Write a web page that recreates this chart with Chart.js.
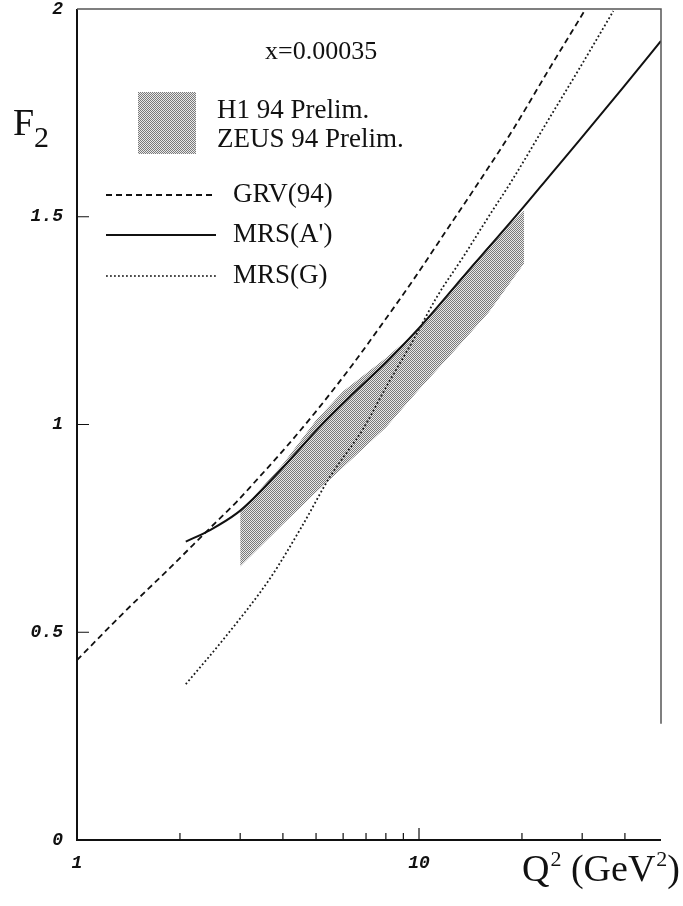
<!DOCTYPE html>
<html>
<head>
<meta charset="utf-8">
<script src="https://cdn.jsdelivr.net/npm/chart.js@4.4.1/dist/chart.umd.min.js"></script>
<style>
  html, body { margin: 0; padding: 0; background: #fff; }
  #wrap { position: relative; width: 683px; height: 906px; }
</style>
</head>
<body>
<div id="wrap"><canvas id="chart" width="683" height="906"></canvas></div>
<script>
// values
const grvQ2 = [1, 1.35, 1.87, 2.45, 2.93, 3.28, 4.1, 5.13, 6.43, 7.6, 9.62, 12.05, 15.0, 18.9, 23.6, 30.6];
const grvF2 = [0.433, 0.542, 0.655, 0.751, 0.814, 0.858, 0.947, 1.043, 1.147, 1.229, 1.348, 1.468, 1.585, 1.712, 1.845, 1.998];

const mrsaQ2 = [2.08, 2.45, 2.93, 3.28, 4.1, 5.13, 6.43, 8.05, 10.07, 13.48, 20.2, 24.4, 29.6, 39.6, 51];
const mrsaF2 = [0.718, 0.746, 0.786, 0.822, 0.906, 0.995, 1.075, 1.151, 1.235, 1.356, 1.523, 1.604, 1.686, 1.812, 1.923];

const mrsgQ2 = [2.08, 2.68, 3.67, 4.54, 5.49, 6.87, 8.05, 9.62, 11.26, 13.48, 15.8, 18.66, 23.6, 29.6, 37.0];
const mrsgF2 = [0.375, 0.483, 0.630, 0.754, 0.874, 0.990, 1.093, 1.203, 1.306, 1.404, 1.494, 1.586, 1.726, 1.860, 1.995];

// H1 / ZEUS band
const bandQ2 = [3.0, 4.0, 5.0, 6.0, 8.0, 10.0, 13.0, 16.0, 20.3];
const bandLow = [0.658, 0.760, 0.837, 0.897, 0.993, 1.084, 1.187, 1.270, 1.388];
const bandHigh = [0.790, 0.905, 1.010, 1.080, 1.160, 1.230, 1.345, 1.430, 1.515];

const xTicks = [1, 2, 3, 4, 5, 6, 7, 8, 9, 10, 20, 30, 40];
const xLabels = [1, 10];
const yTicks = [0, 0.5, 1, 1.5, 2];

const pts = (xs, ys) => xs.map((v, i) => ({ x: v, y: ys[i] }));

// halftone-ish fill like the scanned band (plain checkerboard of grey dots)
function stipple() {
  const c = document.createElement('canvas');
  c.width = 2; c.height = 2;
  const g = c.getContext('2d');
  g.fillStyle = '#e9e9e9';
  g.fillRect(0, 0, 2, 2);
  g.fillStyle = '#7a7a7a';
  g.fillRect(0, 0, 1, 1);
  g.fillRect(1, 1, 1, 1);
  return g.createPattern(c, 'repeat');
}

const ctx = document.getElementById('chart').getContext('2d');
const pattern = stipple();
const serif = '"Liberation Serif", "Times New Roman", serif';

const framePlugin = {
  id: 'frame',
  afterDatasetsDraw(chart) {
    const { ctx, chartArea: a, scales: { x, y } } = chart;
    ctx.save();
    ctx.strokeStyle = '#111';
    ctx.lineWidth = 2;
    ctx.beginPath();
    ctx.moveTo(a.left, a.top); ctx.lineTo(a.left, a.bottom); ctx.lineTo(a.right, a.bottom);
    ctx.stroke();
    ctx.strokeStyle = '#555';
    ctx.lineWidth = 1.5;
    ctx.beginPath();
    ctx.moveTo(a.left, a.top); ctx.lineTo(a.right, a.top); ctx.lineTo(a.right, y.getPixelForValue(0.28));
    ctx.stroke();
    // inward ticks
    ctx.strokeStyle = '#111';
    ctx.lineWidth = 1.2;
    ctx.beginPath();
    xTicks.forEach(v => {
      const px = x.getPixelForValue(v);
      const len = (v === 1 || v === 10) ? 12 : 7;
      ctx.moveTo(px, a.bottom); ctx.lineTo(px, a.bottom - len);
    });
    yTicks.slice(1, -1).forEach(v => {
      const py = y.getPixelForValue(v);
      ctx.moveTo(a.left, py); ctx.lineTo(a.left + 12, py);
    });
    ctx.stroke();
    ctx.restore();
  },
  afterDraw(chart) {
    const c = chart.ctx;
    c.save();
    c.fillStyle = '#111';
    c.textBaseline = 'alphabetic';
    c.font = '26px ' + serif;
    c.fillText('x=0.00035', 265, 59);

    // band key
    c.fillStyle = pattern;
    c.fillRect(138, 92, 58, 62);
    c.fillStyle = '#111';
    c.font = '27px ' + serif;
    c.fillText('H1 94 Prelim.', 217, 118);
    c.fillText('ZEUS 94 Prelim.', 217, 147);

    // line keys
    const keys = [
      { y: 195, dash: [6, 4], w: 1.8, label: 'GRV(94)' },
      { y: 235, dash: [], w: 2, label: "MRS(A')" },
      { y: 276, dash: [1.8, 2.2], w: 1.6, label: 'MRS(G)' }
    ];
    keys.forEach(k => {
      c.beginPath();
      c.setLineDash(k.dash);
      c.lineWidth = k.w;
      c.strokeStyle = '#111';
      c.moveTo(106, k.y); c.lineTo(216, k.y);
      c.stroke();
      c.setLineDash([]);
      c.textBaseline = 'middle';
      c.fillText(k.label, 233, k.y);
    });

    // axis titles
    c.textBaseline = 'alphabetic';
    c.font = '38px ' + serif;
    c.fillText('F', 13, 135);
    c.font = '30px ' + serif;
    c.fillText('2', 34, 147);

    c.font = '38px ' + serif;
    let xq = 522;
    c.fillText('Q', xq, 881); xq += c.measureText('Q').width;
    c.font = '22px ' + serif;
    c.fillText('2', xq + 1, 866); xq += c.measureText('2').width + 1;
    c.font = '38px ' + serif;
    c.fillText(' (GeV', xq, 881); xq += c.measureText(' (GeV').width;
    c.font = '22px ' + serif;
    c.fillText('2', xq + 1, 866); xq += c.measureText('2').width + 1;
    c.font = '38px ' + serif;
    c.fillText(')', xq, 881);
    c.restore();
  }
};

const tickFont = { family: '"Liberation Mono", "DejaVu Sans Mono", monospace', size: 18, style: 'italic', weight: 'bold' };

new Chart(ctx, {
  type: 'line',
  data: {
    datasets: [
      {
        label: 'GRV(94)',
        data: pts(grvQ2, grvF2),
        borderColor: '#111',
        borderWidth: 1.8,
        borderDash: [6, 4],
        pointRadius: 0,
        cubicInterpolationMode: 'monotone',
        fill: false
      },
      {
        label: "MRS(A')",
        data: pts(mrsaQ2, mrsaF2),
        borderColor: '#111',
        borderWidth: 2,
        pointRadius: 0,
        cubicInterpolationMode: 'monotone',
        fill: false
      },
      {
        label: 'MRS(G)',
        data: pts(mrsgQ2, mrsgF2),
        borderColor: '#1a1a1a',
        borderWidth: 1.8,
        borderDash: [1.8, 2.4],
        pointRadius: 0,
        cubicInterpolationMode: 'monotone',
        fill: false
      },
      {
        label: 'band low',
        data: pts(bandQ2, bandLow),
        borderWidth: 0,
        borderColor: 'rgba(0,0,0,0)',
        pointRadius: 0,
        tension: 0,
        fill: false
      },
      {
        label: 'H1 / ZEUS 94 Prelim.',
        data: pts(bandQ2, bandHigh),
        borderWidth: 0,
        borderColor: 'rgba(0,0,0,0)',
        backgroundColor: pattern,
        pointRadius: 0,
        tension: 0,
        fill: '-1'
      }
    ]
  },
  options: {
    responsive: false,
    animation: false,
    layout: { padding: { top: 9, right: 22, left: 0, bottom: 0 } },
    plugins: {
      legend: { display: false },
      tooltip: { enabled: false },
      title: { display: false }
    },
    scales: {
      x: {
        type: 'logarithmic',
        min: 1,
        max: 51,
        grid: { display: false, drawTicks: false },
        border: { display: false },
        afterBuildTicks: (scale) => { scale.ticks = xTicks.map(v => ({ value: v })); },
        afterFit: (scale) => { scale.height = 66; scale.paddingLeft = 0; scale.paddingRight = 0; },
        ticks: {
          autoSkip: false,
          maxRotation: 0,
          padding: 13,
          color: '#111',
          font: tickFont,
          callback: (v) => xLabels.includes(v) ? String(v) : ''
        }
      },
      y: {
        type: 'linear',
        min: 0,
        max: 2,
        grid: { display: false, drawTicks: false },
        border: { display: false },
        afterBuildTicks: (scale) => { scale.ticks = yTicks.map(v => ({ value: v })); },
        afterFit: (scale) => { scale.width = 77; scale.paddingTop = 0; scale.paddingBottom = 0; },
        ticks: {
          padding: 14,
          color: '#111',
          font: tickFont,
          callback: (v) => String(v)
        }
      }
    }
  },
  plugins: [framePlugin]
});
</script>
</body>
</html>
